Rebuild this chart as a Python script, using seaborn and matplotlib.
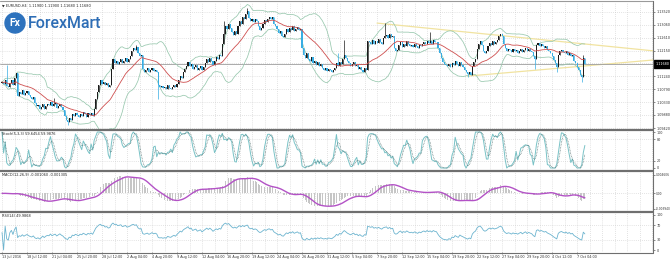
import numpy as np
import pandas as pd
import matplotlib
matplotlib.use("Agg")
import matplotlib.pyplot as plt
import matplotlib.transforms as mtransforms
from matplotlib.lines import Line2D
from matplotlib.patches import Ellipse
import seaborn as sns

# ---------------- data (EURUSD H4) ----------------
symbol = "EURUSD,H4"
first_open = 1.1100
closes = [
    1.1105, 1.1098, 1.1112, 1.1090, 1.1085, 1.1102, 1.1110, 1.1095, 1.1118, 1.1135,
    1.1055,
    1.1070, 1.1062, 1.1075, 1.1058, 1.1066, 1.1072, 1.1060, 1.1050, 1.1044, 1.1052,
    1.1030, 1.1018, 1.1024, 1.1008, 1.1015, 1.1028, 1.1010, 1.1020, 1.1026,
    1.1022, 1.1035, 1.1018, 1.1025, 1.1030, 1.1012, 1.1020, 1.1028, 1.1015, 1.1006,
    1.0985, 1.0972, 1.0962, 1.0978, 1.0970,
    1.0990, 1.0984, 1.0995, 1.0988, 1.0980, 1.0992, 1.0986, 1.0998, 1.0990, 1.0982, 1.0994, 1.0988, 1.0996, 1.0985,
    1.1010, 1.1045, 1.1070, 1.1095, 1.1110,
    1.1098, 1.1105, 1.1092, 1.1100, 1.1088, 1.1095,
    1.1150, 1.1185, 1.1172,
    1.1180, 1.1168, 1.1175, 1.1185, 1.1170, 1.1178, 1.1190, 1.1176, 1.1184, 1.1195,
    1.1215, 1.1225, 1.1218, 1.1228,
    1.1205, 1.1195, 1.1200,
    1.1150, 1.1140, 1.1146, 1.1152, 1.1138, 1.1145, 1.1155, 1.1142, 1.1148, 1.1140,
    1.1095, 1.1088,
    1.1090, 1.1082, 1.1086, 1.1078, 1.1092, 1.1084, 1.1080, 1.1088, 1.1094, 1.1085, 1.1098,
    1.1110, 1.1125, 1.1118, 1.1138, 1.1150, 1.1160,
    1.1175, 1.1160, 1.1168, 1.1150, 1.1158, 1.1165, 1.1148, 1.1155, 1.1162, 1.1145, 1.1158,
    1.1170, 1.1185, 1.1175, 1.1190, 1.1180, 1.1165, 1.1178, 1.1192, 1.1185, 1.1200, 1.1195,
    1.1240, 1.1275, 1.1300, 1.1290, 1.1310, 1.1295,
    1.1280, 1.1270, 1.1285, 1.1275,
    1.1300, 1.1320, 1.1310, 1.1335, 1.1325, 1.1345, 1.1355,
    1.1330, 1.1320, 1.1328, 1.1315, 1.1325, 1.1318,
    1.1300, 1.1288, 1.1295,
    1.1310, 1.1322, 1.1315, 1.1328,
    1.1335, 1.1325, 1.1332,
    1.1310, 1.1300, 1.1290, 1.1278, 1.1285, 1.1268, 1.1262,
    1.1275, 1.1290, 1.1282, 1.1295, 1.1288, 1.1300, 1.1285, 1.1292, 1.1298, 1.1286, 1.1290,
    1.1225, 1.1200,
    1.1190, 1.1205, 1.1185, 1.1178, 1.1192, 1.1170, 1.1180, 1.1165, 1.1175, 1.1160, 1.1168,
    1.1155, 1.1148, 1.1152, 1.1142, 1.1150, 1.1145, 1.1140, 1.1148, 1.1155,
    1.1170, 1.1160, 1.1175,
    1.1168,
    1.1185, 1.1200, 1.1190, 1.1178,
    1.1170, 1.1162, 1.1168, 1.1175, 1.1160, 1.1165,
    1.1150, 1.1158, 1.1145, 1.1140, 1.1152, 1.1148,
    1.1250,
    1.1245, 1.1240, 1.1252, 1.1238, 1.1248, 1.1242, 1.1255, 1.1246, 1.1240, 1.1258,
    1.1265, 1.1270, 1.1258, 1.1272, 1.1262, 1.1268,
    1.1225, 1.1212, 1.1218,
    1.1235, 1.1245, 1.1228, 1.1240, 1.1232, 1.1248, 1.1238, 1.1230,
    1.1235, 1.1228, 1.1238, 1.1232, 1.1225, 1.1236, 1.1230, 1.1240,
    1.1245, 1.1238, 1.1250, 1.1242, 1.1248, 1.1240, 1.1252, 1.1246, 1.1244,
    1.1225, 1.1205, 1.1190, 1.1175, 1.1168,
    1.1165, 1.1160, 1.1168, 1.1158,
    1.1172, 1.1165, 1.1178, 1.1168, 1.1160, 1.1175, 1.1165, 1.1158,
    1.1148, 1.1140, 1.1132, 1.1138, 1.1130,
    1.1160, 1.1175, 1.1185,
    1.1220, 1.1240, 1.1248, 1.1235,
    1.1215, 1.1205, 1.1212,
    1.1230, 1.1242, 1.1235, 1.1248, 1.1240, 1.1245, 1.1252,
    1.1265, 1.1275, 1.1268,
    1.1240, 1.1225, 1.1215, 1.1222,
    1.1218, 1.1210, 1.1220, 1.1212, 1.1216, 1.1208,
    1.1215, 1.1222, 1.1210, 1.1218, 1.1225, 1.1212, 1.1220, 1.1215, 1.1210,
    1.1195, 1.1185,
    1.1235, 1.1242, 1.1230, 1.1238, 1.1232,
    1.1225, 1.1230, 1.1218, 1.1212, 1.1205,
    1.1195, 1.1182, 1.1170,
    1.1158, 1.1200,
    1.1212, 1.1218, 1.1210,
    1.1205, 1.1212, 1.1200, 1.1208, 1.1195, 1.1200,
    1.1180, 1.1170, 1.1158, 1.1145, 1.1130, 1.1122,
    1.1190, 1.1168,
]
# bars with a visible wick beyond the body and the wick's extreme price
wick_bars = [3, 33, 42, 86, 100, 142, 157, 215, 219, 245, 274, 298, 341, 355, 371, 372]
wick_prices = [1.1165, 1.1048, 1.0952, 1.1235, 1.1045, 1.1320, 1.1366, 1.1206,
               1.1252, 1.1312, 1.1280, 1.1122, 1.1150, 1.1140, 1.1104, 1.1200]

# manual trend lines (bar index, price)
trend_bars = [[240, 417], [298, 417]]
trend_prices = [[1.1312, 1.1214], [1.1125, 1.1182]]

price_ticks = [1.09420, 1.09880, 1.10330, 1.10790, 1.11240, 1.11700,
               1.12150, 1.12610, 1.13060, 1.13520]
price_labels = ["1.09420", "1.09880", "1.10330", "1.10790", "1.11240", "",
                "1.12150", "1.12610", "1.13060", "1.13520"]
stoch_ticks = [0, 20, 80, 100]
macd_ticks = [-0.003940, 0.0, 0.004606]
macd_labels = ["-0.003940", "0.00", "0.004606"]
rsi_ticks = [0, 30, 70, 100]

date_labels = ["13 Jul 2016", "18 Jul 12:00", "21 Jul 04:00", "25 Jul 20:00",
               "28 Jul 12:00", "2 Aug 04:00", "4 Aug 20:00", "9 Aug 12:00",
               "12 Aug 04:00", "16 Aug 20:00", "19 Aug 12:00", "24 Aug 04:00",
               "26 Aug 20:00", "31 Aug 12:00", "5 Sep 04:00", "7 Sep 20:00",
               "12 Sep 12:00", "15 Sep 04:00", "19 Sep 20:00", "22 Sep 12:00",
               "27 Sep 04:00", "29 Sep 20:00", "4 Oct 12:00", "7 Oct 04:00"]
bars_per_label = 16

stoch_text = "Stoch(5,3,3) 59.6454 59.9876"
macd_text = "MACD(12,26,9) -0.001060 -0.001305"
rsi_text = "RSI(14) 49.9868"

# ---------------- derived series ----------------
c = pd.Series(closes, dtype=float)
o = pd.Series([first_open] + closes[:-1], dtype=float)
hi = np.maximum(o, c)
lo = np.minimum(o, c)
for b, p in zip(wick_bars, wick_prices):
    if p > hi[b]:
        hi[b] = p
    else:
        lo[b] = p
n = len(c)
xs = np.arange(n)

ma20 = c.rolling(20, min_periods=1).mean()
sd20 = c.rolling(20, min_periods=1).std(ddof=0)
bb_up = ma20 + 2 * sd20
bb_dn = ma20 - 2 * sd20

ll = lo.rolling(5, min_periods=1).min()
hh = hi.rolling(5, min_periods=1).max()
num = (c - ll).rolling(3, min_periods=1).sum()
den = (hh - ll).rolling(3, min_periods=1).sum()
st_k = 100 * num / den.replace(0, np.nan)
st_k = st_k.fillna(50)
st_d = st_k.rolling(3, min_periods=1).mean()

ema12 = c.ewm(span=12, adjust=False).mean()
ema26 = c.ewm(span=26, adjust=False).mean()
macd = ema12 - ema26
macd_sig = macd.rolling(9, min_periods=1).mean()

delta = c.diff().fillna(0)
gain = delta.clip(lower=0).ewm(alpha=1 / 14, adjust=False).mean()
loss = (-delta.clip(upper=0)).ewm(alpha=1 / 14, adjust=False).mean()
rsi = 100 - 100 / (1 + gain / loss.replace(0, np.nan))
rsi = rsi.fillna(50)

# ---------------- figure ----------------
sns.set_style("white")
plt.rcParams["font.family"] = ["DejaVu Sans"]
W, H = 670, 261
fig = plt.figure(figsize=(W / 100, H / 100), dpi=100)
fig.patch.set_facecolor("white")
PX_W = 653


def fax(top, bottom):
    return fig.add_axes([0, 1 - bottom / H, PX_W / W, (bottom - top) / H])


ax_main = fax(2, 129)
ax_st = fax(131, 170)
ax_md = fax(172, 211)
ax_rsi = fax(213, 252)
axes = [ax_main, ax_st, ax_md, ax_rsi]

XL = (-1.3, 416.6)
grid_kw = dict(color="#c9c9c9", lw=0.5, ls=(0, (1, 2)), zorder=0)
for ax in axes:
    ax.set_xlim(*XL)
    for s in ax.spines.values():
        s.set_visible(False)
    for gx in range(0, 417, 8):
        ax.axvline(gx, **grid_kw)
    ax.yaxis.tick_right()
    ax.tick_params(axis="y", length=1.5, width=0.4, labelsize=2.4, pad=1,
                   colors="#333333", direction="out")
    ax.tick_params(axis="x", bottom=False, labelbottom=False)

# ---- main price panel ----
ax = ax_main
ax.set_ylim(1.09385, 1.13864)
for p in price_ticks:
    ax.axhline(p, **grid_kw)
ax.set_yticks(price_ticks)
ax.set_yticklabels(price_labels)

bull = (c >= o).values
body_lo = np.minimum(o, c).values
body_h = np.maximum(np.abs(c - o).values, 0.00008)
colors = np.where(bull, "#1c1c1c", "#37ade3")
ax.vlines(xs, lo.values, hi.values, colors=colors, lw=0.5, zorder=3)
ax.bar(xs, body_h, bottom=body_lo, width=0.7, color=colors, linewidth=0, zorder=4)

sns.lineplot(x=xs, y=bb_up.values, ax=ax, color="#98c8ae", lw=0.55, estimator=None, zorder=2)
sns.lineplot(x=xs, y=bb_dn.values, ax=ax, color="#98c8ae", lw=0.55, estimator=None, zorder=2)
sns.lineplot(x=xs, y=ma20.values, ax=ax, color="#cf4f4f", lw=0.6, estimator=None, zorder=5)
for tb, tp in zip(trend_bars, trend_prices):
    sns.lineplot(x=tb, y=tp, ax=ax, color="#f1e3a0", lw=0.9, estimator=None, zorder=1)

last = c.iloc[-1]
ax.axhline(last, color="#9d9d9d", lw=0.6, zorder=1)
blend = mtransforms.blended_transform_factory(ax.transAxes, ax.transData)
ax.text(1.004, last, f"{last:.5f}", transform=blend, ha="left", va="center",
        fontsize=2.4, color="white", zorder=10, clip_on=False,
        bbox=dict(boxstyle="square,pad=0.6", fc="black", ec="black"))
ax.text(0.003, 0.985,
        f"\u25bc {symbol}  {o.iloc[-1]:.5f} {hi.iloc[-1]:.5f} {lo.iloc[-1]:.5f} {last:.5f}",
        transform=ax.transAxes, ha="left", va="top", fontsize=2.5, color="#222222")

# logo
fig.add_artist(Ellipse((15 / W, 1 - 23 / H), 20 / W, 20 / H, color="#2d72bd", zorder=20))
fig.text(15 / W, 1 - 23.5 / H, "Fx", ha="center", va="center", color="white",
         fontsize=7.5, fontweight="bold", family=["Roboto", "DejaVu Sans"], zorder=21)
fig.text(28 / W, 1 - 24 / H, "ForexMart", ha="left", va="center", color="#2d6db5",
         fontsize=11.5, fontweight="medium", family=["Roboto", "DejaVu Sans"], zorder=21)

# ---- stochastic ----
ax = ax_st
ax.set_ylim(-5.6, 102.8)
for lv in (20, 80):
    ax.axhline(lv, **grid_kw)
sns.lineplot(x=xs, y=st_k.values, ax=ax, color="#79c2c6", lw=0.7, estimator=None)
sns.lineplot(x=xs, y=st_d.values, ax=ax, color="#4d6b6b", lw=0.5, ls=(0, (1, 1.2)), estimator=None)
ax.set_yticks(stoch_ticks)
ax.set_yticklabels([str(t) for t in stoch_ticks])
ax.text(0.003, 0.97, stoch_text, transform=ax.transAxes, ha="left", va="top",
        fontsize=2.5, color="#222222")

# ---- MACD ----
ax = ax_md
ax.set_ylim(-0.00445, 0.00535)
ax.axhline(0, **grid_kw)
ax.bar(xs, macd.values, width=0.5, color="#c6c6c6", linewidth=0, zorder=2)
sns.lineplot(x=xs, y=macd_sig.values, ax=ax, color="#b352c6", lw=1.0, estimator=None, zorder=3)
ax.set_yticks(macd_ticks)
ax.set_yticklabels(macd_labels)
ax.tick_params(axis="y", labelsize=2.1, pad=0.6)
ax.text(0.003, 0.97, macd_text, transform=ax.transAxes, ha="left", va="top",
        fontsize=2.5, color="#222222")

# ---- RSI ----
ax = ax_rsi
ax.set_ylim(-5.7, 105.7)
for lv in (30, 70):
    ax.axhline(lv, **grid_kw)
sns.lineplot(x=xs, y=rsi.values, ax=ax, color="#6cb4cf", lw=0.6, estimator=None)
ax.set_yticks(rsi_ticks)
ax.set_yticklabels([str(t) for t in rsi_ticks])
ax.text(0.003, 0.97, rsi_text, transform=ax.transAxes, ha="left", va="top",
        fontsize=2.5, color="#222222")
lab_x = [i * bars_per_label for i in range(len(date_labels))]
ax.set_xticks(lab_x)
ax.set_xticklabels(date_labels, ha="left")
ax.tick_params(axis="x", bottom=True, labelbottom=True, length=1.5, width=0.4,
               labelsize=2.4, pad=1, colors="#333333")

for ax in axes:
    ax.set_xlabel("")
    ax.set_ylabel("")
    ax.set_xlim(*XL)
    lg = ax.get_legend()
    if lg:
        lg.remove()

# panel frames / separators (pixel rows)
def hline(ypx, lw, col):
    fig.add_artist(Line2D([0, PX_W / W], [1 - ypx / H] * 2, color=col, lw=lw, zorder=30))

hline(1, 0.8, "#9a9a9a")
hline(130, 1.6, "#6f6f6f")
hline(171, 1.6, "#6f6f6f")
hline(212, 1.6, "#6f6f6f")
hline(252.5, 0.8, "#6f6f6f")
fig.add_artist(Line2D([PX_W / W] * 2, [1 - 1 / H, 1 - 252.5 / H], color="#6f6f6f", lw=0.8, zorder=30))

fig.savefig("out.png", dpi=100, facecolor="white")
